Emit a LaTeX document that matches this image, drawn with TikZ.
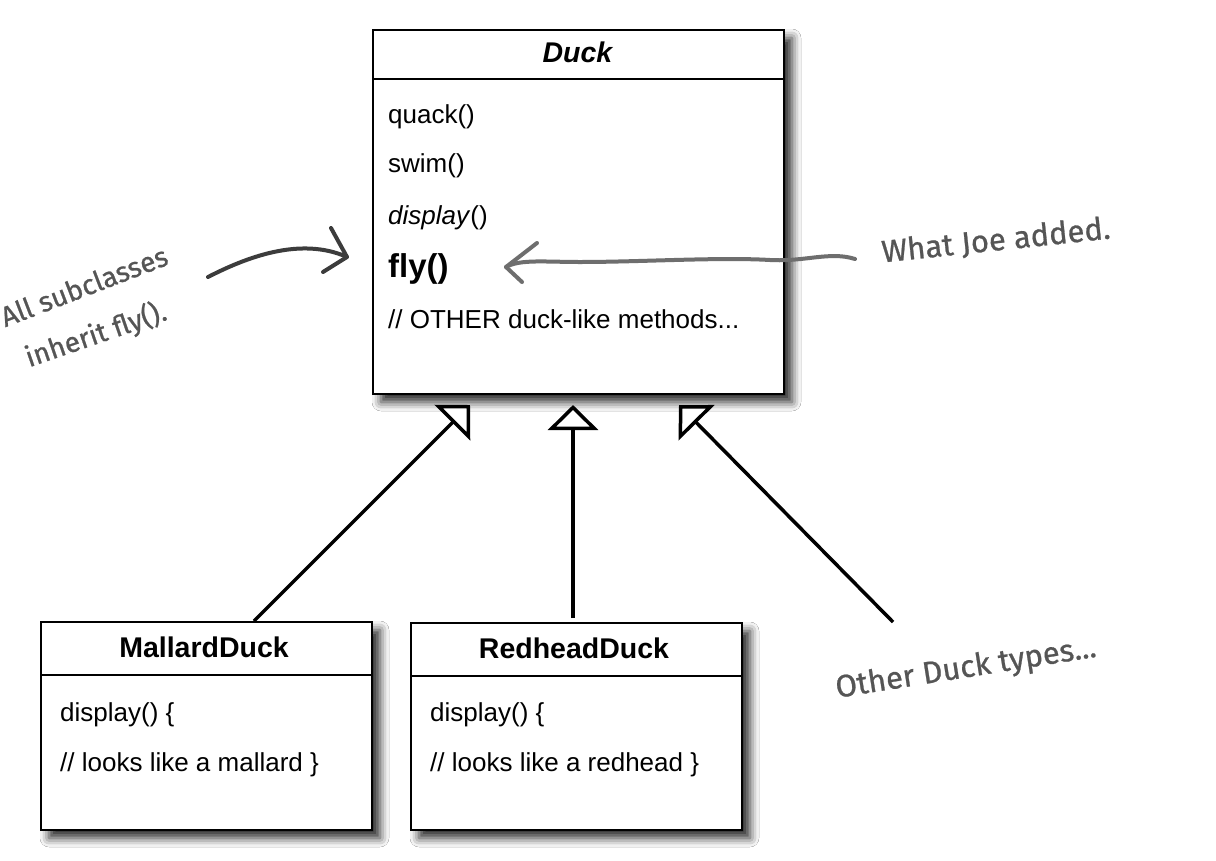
\documentclass[tikz,border=0pt]{standalone}
\usepackage{fontspec}
\setmainfont{Liberation Sans}
\newfontfamily\handfont[FakeBold=0.8]{Fira Sans}
\usetikzlibrary{arrows.meta,shadows.blur,calc}

\definecolor{notegray}{HTML}{555555}
\definecolor{handdark}{HTML}{3C3C3C}
\definecolor{handgray}{HTML}{6E6E6E}

\begin{document}
\begin{tikzpicture}[x=1pt,y=-1pt,
  classbox/.style={draw=black, line width=2pt, fill=white, anchor=north west, inner sep=0pt,
    blur shadow={shadow xshift=8pt, shadow yshift=-8pt, shadow blur radius=9pt, shadow opacity=85}},
  divider/.style={line width=1.6pt},
  member/.style={anchor=base west, inner sep=0pt, font=\fontsize{26}{30}\selectfont},
  classname/.style={anchor=base, inner sep=0pt, font=\fontsize{28.5}{32}\selectfont\bfseries},
  inherit/.style={line width=3.5pt, -{Triangle[length=25pt,width=50pt,fill=white]}},
  note/.style={text=notegray, font=\handfont\fontsize{31}{40}\selectfont, inner sep=0pt},
  hand/.style={line width=4pt, line cap=round, line join=round}
]
\useasboundingbox[fill=white] (0,0) rectangle (1216,860);

% ---- abstract superclass ----
\node[classbox, minimum width=411pt, minimum height=364pt] (duck) at (372,29) {};
\draw[divider] ([yshift=-50pt]duck.north west) -- ([yshift=-50pt]duck.north east);
\node[classname, font=\fontsize{28.5}{32}\selectfont\bfseries\itshape] (duckname) at (577.5,62) {Duck};
\node[member] (mquack) at (388,123) {quack()};
\node[member] (mswim) at (388,172) {swim()};
\node[member] (mdisplay) at (388,224) {\textit{display}()};
\node[member, font=\fontsize{33}{36}\selectfont\bfseries] (mfly) at (388,277) {fly()};
\node[member] (mother) at (388,328) {// OTHER duck-like methods...};

% ---- subclasses ----
\node[classbox, minimum width=331pt, minimum height=208pt] (mallard) at (40,621) {};
\draw[divider] ([yshift=-54pt]mallard.north west) -- ([yshift=-54pt]mallard.north east);
\node[classname] (mallardname) at (204,657) {MallardDuck};
\node[member] (mallard1) at (60,721) {display() \{};
\node[member] (mallard2) at (60,771) {// looks like a mallard \}};

\node[classbox, minimum width=331pt, minimum height=207pt] (redhead) at (410,622) {};
\draw[divider] ([yshift=-54pt]redhead.north west) -- ([yshift=-54pt]redhead.north east);
\node[classname] (redheadname) at (574,658) {RedheadDuck};
\node[member] (redhead1) at (430,721) {display() \{};
\node[member] (redhead2) at (430,771) {// looks like a redhead \}};

% ---- generalisation arrows ----
\coordinate (tipL) at (470,405);
\coordinate (tipM) at (573,405);
\coordinate (tipR) at (679,405);
\coordinate (otherEnd) at (893,622);
\draw[inherit] ([xshift=214pt]mallard.north west) -- (tipL);
\draw[inherit] ([xshift=163pt,yshift=4pt]redhead.north west) -- (tipM);
\draw[inherit] (otherEnd) -- (tipR);

% ---- hand-drawn notes ----
\coordinate (inhStart) at (208,277);
\coordinate (inhTip) at (347,257);
\draw[hand, draw=handdark] (inhStart) .. controls (245,258) and (300,236) .. (inhTip);
\draw[hand, draw=handdark] ($(inhTip)+(-16,-29)$) -- (inhTip) -- +(-24,15);

\coordinate (joeStart) at (855,259);
\coordinate (joeTip) at (506,267);
\draw[hand, draw=handgray] (joeStart) .. controls (830,251) and (805,262) .. (770,260)
  .. controls (720,257) and (640,262) .. (580,262)
  .. controls (545,262) and (520,259) .. (joeTip);
\draw[hand, draw=handgray] ($(joeTip)+(31,-24)$) -- (joeTip) -- +(16,15);

\node[note, rotate=6] (joe) at (996,241) {What Joe added.};
\node[note, rotate=21, font=\handfont\fontsize{28}{40}\selectfont] (inh1) at (84,286) {All subclasses};
\node[note, rotate=19, font=\handfont\fontsize{28}{40}\selectfont] (inh2) at (96,335) {inherit fly().};
\node[note, rotate=9] (others) at (966,669) {Other Duck types...};
\end{tikzpicture}
\end{document}
